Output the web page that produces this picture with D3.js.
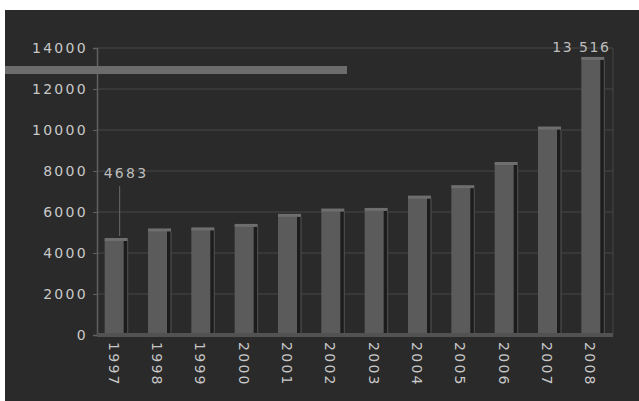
<!DOCTYPE html>
<html>
<head>
<meta charset="utf-8">
<script src="https://cdn.jsdelivr.net/npm/d3@7"></script>
<style>
  body { margin: 0; background: #fff; }
  svg { display: block; }
</style>
</head>
<body>
<script>
// chart data
var years = ["1997", "1998", "1999", "2000", "2001", "2002", "2003", "2004", "2005", "2006", "2007", "2008"];
var values = [4683, 5150, 5200, 5370, 5860, 6120, 6150, 6750, 7260, 8390, 10120, 13516];
var yTicks = [0, 2000, 4000, 6000, 8000, 10000, 12000, 14000];
var callouts = [{ year: "1997", text: "4683" }, { year: "2008", text: "13 516" }];

var svgWidth = 639;
var svgHeight = 401;
var font = "DejaVu Sans, Verdana, sans-serif";

var svg = d3.select("body")
  .append("svg")
  .attr("width", svgWidth)
  .attr("height", svgHeight);

// dark panel
svg.append("rect")
  .attr("x", 5).attr("y", 10)
  .attr("width", svgWidth - 5).attr("height", svgHeight - 10)
  .attr("fill", "#2a2a2a");

var yScale = d3.scaleLinear().domain([0, 14000]).range([335, 48]);
var xScale = d3.scaleBand().domain(years).range([92, 612]).padding(0);

var plotLeft = 97, plotRight = 613;

// gridlines
svg.append("g")
  .selectAll("line")
  .data(yTicks.slice(1))
  .enter()
  .append("line")
  .attr("x1", plotLeft).attr("x2", plotRight)
  .attr("y1", d => yScale(d)).attr("y2", d => yScale(d))
  .attr("stroke", "#464646")
  .attr("stroke-width", 1.2);

// right edge of the back wall
svg.append("line")
  .attr("x1", plotRight).attr("x2", plotRight)
  .attr("y1", yScale(14000)).attr("y2", yScale(0))
  .attr("stroke", "#444");

// left axis
var leftAxis = d3.axisLeft(yScale).tickValues(yTicks).tickSize(4).tickPadding(5).tickFormat(d3.format("d"));
var yAxisG = svg.append("g")
  .attr("transform", "translate(" + plotLeft + ",0)")
  .call(leftAxis);
yAxisG.select(".domain").attr("stroke", "#606060").attr("stroke-width", 1.5);
yAxisG.selectAll(".tick line").attr("stroke", "#606060");
yAxisG.selectAll("text")
  .attr("fill", "#c8c8c8")
  .attr("font-family", font)
  .attr("font-size", "14px")
  .attr("letter-spacing", "2.3px");

// light band across the top left
svg.append("rect")
  .attr("x", 5).attr("y", 66)
  .attr("width", 342).attr("height", 8)
  .attr("fill", "#6c6c6c");

// bars: side, back edge, face and top cap
var bars = svg.append("g")
  .selectAll("g")
  .data(years)
  .enter()
  .append("g");

bars.append("rect")
  .attr("x", d => xScale(d) + xScale.bandwidth() / 2 + 9)
  .attr("y", (d, i) => yScale(values[i]) + 2)
  .attr("width", 5)
  .attr("height", (d, i) => yScale(0) - yScale(values[i]) - 2)
  .attr("fill", "#1c1c1c");

bars.append("line")
  .attr("x1", d => xScale(d) + xScale.bandwidth() / 2 + 14)
  .attr("x2", d => xScale(d) + xScale.bandwidth() / 2 + 14)
  .attr("y1", (d, i) => yScale(values[i]) + 2)
  .attr("y2", yScale(0))
  .attr("stroke", "#4c4c4c")
  .attr("stroke-width", 1.2);

bars.append("rect")
  .attr("x", d => xScale(d) + xScale.bandwidth() / 2 - 9)
  .attr("y", (d, i) => yScale(values[i]))
  .attr("width", 19)
  .attr("height", (d, i) => yScale(0) - yScale(values[i]))
  .attr("fill", "#5b5b5b");

bars.append("rect")
  .attr("x", d => xScale(d) + xScale.bandwidth() / 2 - 9)
  .attr("y", (d, i) => yScale(values[i]) - 1)
  .attr("width", 23)
  .attr("height", 3)
  .attr("fill", "#6e6e6e");

// floor / bottom axis
svg.append("rect")
  .attr("x", plotLeft).attr("y", yScale(0) - 2)
  .attr("width", plotRight - plotLeft).attr("height", 4)
  .attr("fill", "#525252");

var bottomAxis = d3.axisBottom(xScale).tickSize(0).tickPadding(0);
var xAxisG = svg.append("g")
  .attr("transform", "translate(0," + (yScale(0) + 7) + ")")
  .call(bottomAxis);
xAxisG.select(".domain").remove();
xAxisG.selectAll("text")
  .attr("fill", "#c8c8c8")
  .attr("font-family", font)
  .attr("font-size", "14px")
  .attr("letter-spacing", "2.3px")
  .attr("text-anchor", "start")
  .attr("dy", "0.35em")
  .attr("transform", "rotate(90)");

// value callouts
var c0 = callouts[0];
var x0 = xScale(c0.year) + xScale.bandwidth() / 2;
svg.append("line")
  .attr("x1", x0 + 6).attr("x2", x0 + 6)
  .attr("y1", 186).attr("y2", yScale(values[years.indexOf(c0.year)]) - 3)
  .attr("stroke", "#6a6a6a");
svg.append("text")
  .attr("x", x0 - 10).attr("y", 178)
  .attr("fill", "#bdbdbd")
  .attr("font-family", font)
  .attr("font-size", "14px")
  .attr("letter-spacing", "2.3px")
  .text(c0.text);

var c1 = callouts[1];
var x1 = xScale(c1.year) + xScale.bandwidth() / 2;
svg.append("text")
  .attr("x", x1 - 38).attr("y", 52)
  .attr("fill", "#bdbdbd")
  .attr("font-family", font)
  .attr("font-size", "14px")
  .attr("letter-spacing", "1.5px")
  .text(c1.text);
</script>
</body>
</html>
